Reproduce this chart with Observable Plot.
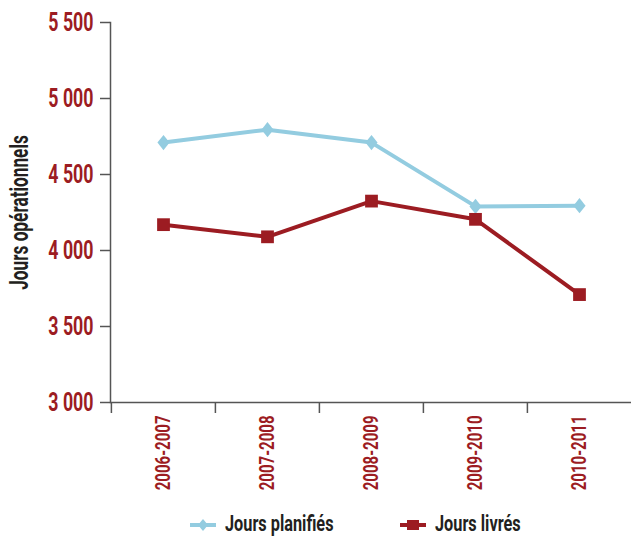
<!DOCTYPE html>
<html>
<head>
<meta charset="utf-8">
<script src="https://cdn.jsdelivr.net/npm/d3@7"></script>
<script src="https://cdn.jsdelivr.net/npm/@observablehq/plot@0.6"></script>
<style>
  html, body { margin: 0; padding: 0; background: #fff; }
  #chart { width: 631px; }
  #chart svg text { font-weight: bold; }
</style>
</head>
<body>
<div id="chart"></div>
<script>
// Operational days per fiscal year
const years = ["2006-2007", "2007-2008", "2008-2009", "2009-2010", "2010-2011"];
const planned = [4710, 4795, 4710, 4290, 4295];   // Jours planifiés
const delivered = [4170, 4090, 4325, 4205, 3710]; // Jours livrés
const yTicks = [3000, 3500, 4000, 4500, 5000, 5500];
const seriesNames = ["Jours planifiés", "Jours livrés"];

const BLUE = "#93cce0";
const RED = "#9c1c22";
const INK = "#231f20";
const AXIS = "#555555";
const FONT = "Roboto, 'Liberation Sans', sans-serif";

const rows = [
  ...years.map((year, i) => ({year, value: planned[i], series: seriesNames[0]})),
  ...years.map((year, i) => ({year, value: delivered[i], series: seriesNames[1]}))
];

// Slightly narrow diamond marker
const diamond = {
  draw(context, size) {
    const a = Math.sqrt(size / 1.6);
    context.moveTo(0, -a);
    context.lineTo(0.8 * a, 0);
    context.lineTo(0, a);
    context.lineTo(-0.8 * a, 0);
    context.closePath();
  }
};

const width = 631, height = 500;
const marginLeft = 110, marginRight = 0, marginTop = 22, marginBottom = 98;
const bandwidth = (width - marginLeft - marginRight) / years.length;
const fmt = d => d3.format(",")(d).replace(",", " ");

const chart = Plot.plot({
  width, height, marginLeft, marginRight, marginTop, marginBottom,
  style: {fontFamily: FONT, background: "#fff", overflow: "visible"},
  x: {type: "band", domain: years, padding: 0},
  y: {domain: [3000, 5500]},
  marks: [
    // tick labels on the value axis
    Plot.axisY({ticks: yTicks, tickSize: 10, tickPadding: 7, tickFormat: fmt, fontSize: 25,
      fill: RED, stroke: AXIS, strokeWidth: 1.5, label: null}),
    // value axis title
    Plot.axisY({ticks: [], label: "Jours opérationnels", labelAnchor: "center", labelArrow: "none",
      labelOffset: 100, fontSize: 25, fill: INK}),
    // category labels, rotated
    Plot.axisX({tickSize: 0, tickPadding: 13, tickRotate: -90, fontSize: 20, fill: RED, label: null}),
    // separators at the left edge of each band
    Plot.axisX({tickSize: 11, tickFormat: () => "", dx: -bandwidth / 2, stroke: AXIS, strokeWidth: 1.5, label: null}),
    Plot.frame({anchor: "left", stroke: AXIS, strokeWidth: 1.5}),
    Plot.ruleY([3000], {stroke: AXIS, strokeWidth: 1.5}),
    Plot.line(rows, {x: "year", y: "value", z: "series",
      stroke: d => d.series === seriesNames[0] ? BLUE : RED, strokeWidth: 4}),
    Plot.dot(rows.filter(d => d.series === seriesNames[0]), {x: "year", y: "value",
      symbol: diamond, r: 5.4, fill: BLUE, stroke: "none"}),
    Plot.dot(rows.filter(d => d.series === seriesNames[1]), {x: "year", y: "value",
      symbol: "square", r: 7.2, fill: RED, stroke: "none"})
  ]
});
document.getElementById("chart").appendChild(chart);

// Squeeze text horizontally to get the narrow typeface look
function condense(nodes, k) {
  nodes.each(function() {
    const len = this.getComputedTextLength();
    this.setAttribute("textLength", (len * k).toFixed(1));
    this.setAttribute("lengthAdjust", "spacingAndGlyphs");
  });
}
const svg = d3.select(chart);
condense(svg.selectAll('[aria-label="y-axis tick label"] text'), 0.71);
condense(svg.selectAll('[aria-label="x-axis tick label"] text'), 0.75);
condense(svg.selectAll('[aria-label="y-axis label"] text'), 0.69);

// Legend below the plot
const legend = d3.select("#chart").append("svg")
  .attr("width", width).attr("height", 36)
  .style("display", "block")
  .style("font-family", FONT);
const items = [
  {name: seriesNames[0], color: BLUE, shape: "diamond", left: 189},
  {name: seriesNames[1], color: RED, shape: "square", left: 399}
];
for (const it of items) {
  const g = legend.append("g").attr("transform", `translate(${it.left},25)`);
  g.append("line").attr("x1", 1).attr("x2", 27).attr("stroke", it.color).attr("stroke-width", 4);
  if (it.shape === "diamond") {
    g.append("path").attr("d", "M14,-6L19,0L14,6L9,0Z").attr("fill", it.color);
  } else {
    g.append("rect").attr("x", 8).attr("y", -5).attr("width", 12).attr("height", 10).attr("fill", it.color);
  }
  g.append("text").attr("x", 36).attr("y", 6).attr("font-size", 22).attr("font-weight", "bold")
    .attr("fill", INK).text(it.name);
}
condense(legend.selectAll("text"), 0.74);
</script>
</body>
</html>
